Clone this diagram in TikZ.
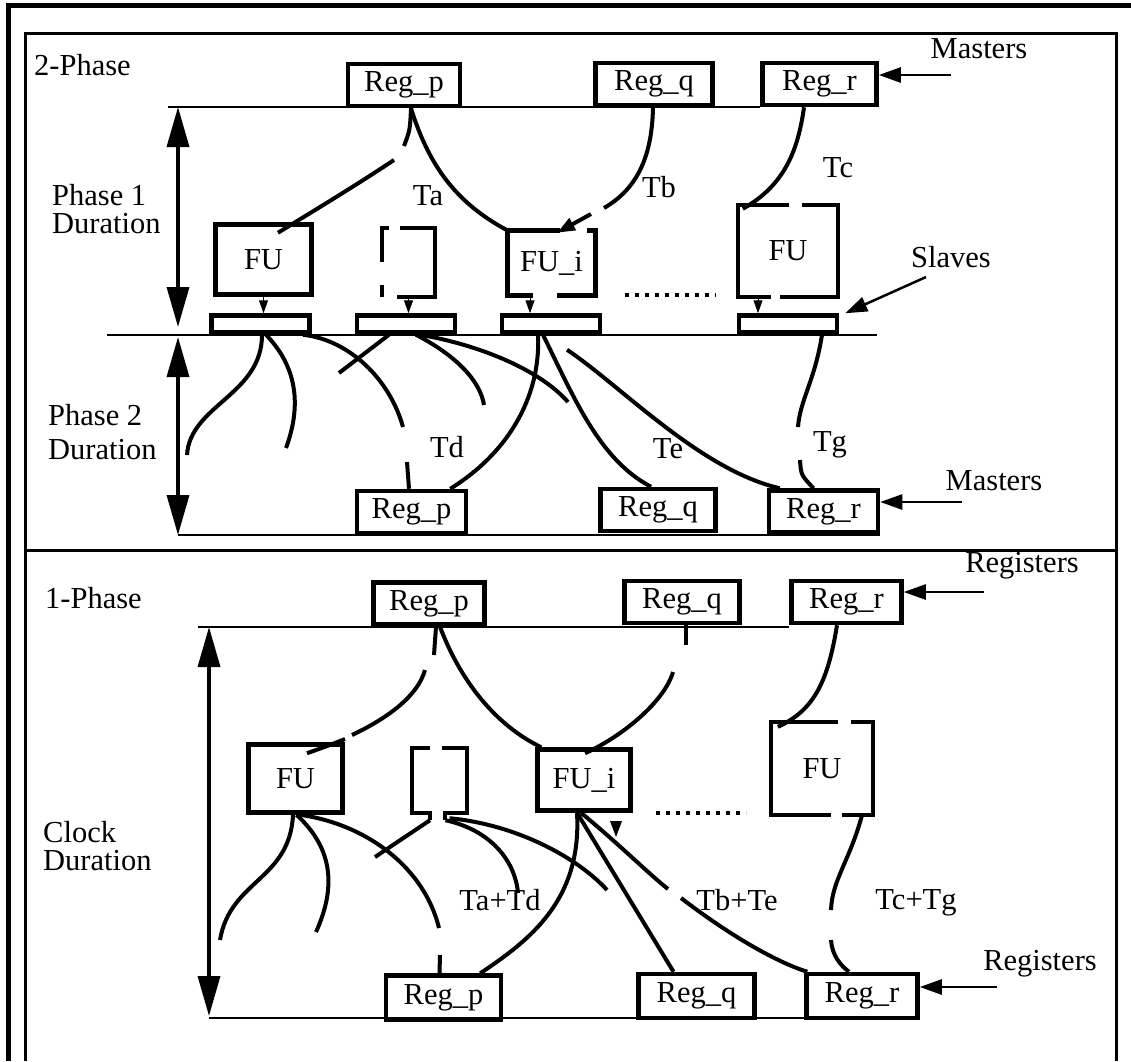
\documentclass[tikz,border=0pt]{standalone}
\usepackage{fontspec}
\setmainfont{Liberation Serif}
\usetikzlibrary{arrows.meta}
\newcommand\dtxt{\fontsize{30.5}{28}\selectfont}
\begin{document}
\begin{tikzpicture}[x=1pt,y=-1pt,
  box/.style={draw, line width=4.5pt, inner sep=0pt, font=\dtxt},
  reg/.style={box, minimum width=112pt, minimum height=42pt},
  fub/.style={box, minimum width=96pt, minimum height=70pt},
  ghost/.style={inner sep=0pt, font=\dtxt},
  outl/.style={line width=4.5pt},
  slv/.style={box, minimum width=98pt, minimum height=17pt},
  wire/.style={line width=4pt},
  tline/.style={line width=1.6pt},
  frame/.style={line width=3pt},
  durarrow/.style={line width=3.5pt, {Triangle[length=40pt,width=22pt]}-{Triangle[length=40pt,width=22pt]}},
  ptr/.style={line width=2.5pt, -{Triangle[length=22pt,width=15pt]}},
  lbl/.style={font=\dtxt, inner sep=0pt},
  tipar/.style={line width=1pt, -{Triangle[length=13pt,width=9pt]}},
  dots/.style={line width=4.5pt, dash pattern=on 4pt off 6pt}
]
\useasboundingbox (0,0) rectangle (1131,1061);
% frames
\draw[line width=5pt] (8,1061) -- (8,5) -- (1131,5);
\draw[frame] (25,1061) -- (25,33) -- (1116,33) -- (1116,1061);
\draw[frame] (25,550) -- (1116,550);

% ================= 2-Phase =================
\node[lbl, anchor=base west] (t2p) at (34,75) {2-Phase};
\node[lbl, anchor=north west, align=left] (p1d) at (52,184) {Phase 1\\Duration};
\node[lbl, anchor=north west, align=left] (p2d) at (48,404) {Phase 2\\[6pt]Duration};

\node[reg] (Rp1) at (404,85) {Reg\_p};
\node[reg, minimum width=117pt] (Rq1) at (654,84) {Reg\_q};
\node[reg, minimum width=114pt] (Rr1) at (819.5,84) {Reg\_r};

\coordinate (L1s) at (168,107);
\draw[tline] (L1s) -- (L1s -| Rr1.west);
\coordinate (A1t) at (178,107);
\coordinate (A1b) at (178,327);
\draw[durarrow] (A1t) -- (A1b);
\coordinate (A2t) at (178,337);
\coordinate (A2b) at (178,535);
\draw[durarrow] (A2t) -- (A2b);

\node[lbl, anchor=base] (mst1) at (979,58) {Masters};
\coordinate (mtp) at (951,75);
\draw[ptr] (mtp) -- (Rr1.east |- mtp);

\node[fub] (FU1) at (263.5,259.5) {FU};
\node[ghost, minimum width=53pt, minimum height=69pt] (BR1) at (408.5,262.5) {};
\draw[outl] ([xshift=7pt]BR1.north west) -- (BR1.north west) -- ([yshift=-34pt]BR1.north west);
\draw[outl] ([yshift=12pt]BR1.south west) -- (BR1.south west);
\draw[outl] ([xshift=18pt]BR1.north west) -- (BR1.north east) -- (BR1.south east) -- ([xshift=15pt]BR1.south west);
\node[ghost, minimum width=88pt, minimum height=65pt] (FUi1) at (551.5,263) {FU\_i};
\draw[outl] ([xshift=52.5pt]FUi1.north west) -- (FUi1.north west) -- (FUi1.south west) -- ([xshift=26pt]FUi1.south west);
\draw[outl] ([xshift=49.5pt]FUi1.south west) -- (FUi1.south east) -- (FUi1.north east) -- ([xshift=79.5pt]FUi1.north west);
\node[ghost, minimum width=100pt, minimum height=92pt] (FUr1) at (788,251) {FU};
\draw[outl] ([xshift=51pt]FUr1.north west) -- (FUr1.north west) -- (FUr1.south west) -- ([xshift=33pt]FUr1.south west);
\draw[outl] ([xshift=42pt]FUr1.south west) -- (FUr1.south east) -- (FUr1.north east) -- ([xshift=64pt]FUr1.north west);

\coordinate (dt1a) at (625,295);
\coordinate (dt1b) at (716,295);
\draw[dots] (dt1a) -- (dt1b);

\node[slv] (S1) at (260.5,324) {};
\node[slv] (S2) at (406,324) {};
\node[slv] (S3) at (551,324) {};
\node[slv] (S4) at (788,324) {};

\coordinate (Lms) at (107,335);
\coordinate (Lme) at (877,335);
\draw[tline] (Lms) -- (Lme);

\draw[tipar] (FU1.south) -- (FU1.south |- S1.north);
\draw[tipar] (BR1.south) -- (BR1.south |- S2.north);
\coordinate (tp3) at (530,297);
\draw[tipar] (tp3) -- (tp3 |- S3.north);
\coordinate (tp4) at (758,297);
\draw[tipar] (tp4) -- (tp4 |- S4.north);

\node[lbl, anchor=base] (slvl) at (951,267) {Slaves};
\coordinate (slp) at (926,277);
\draw[ptr] (slp) -- ([xshift=6pt]S4.north east);

% phase 1 wires
\coordinate (g1a) at (404,146);
\coordinate (g1b) at (394,160);
\draw[wire] ([xshift=7pt]Rp1.south) .. controls (410,130) .. (g1a);
\draw[wire] (g1b) .. controls (355,186) and (315,210) .. ([xshift=14.5pt,yshift=-10.5pt]FU1.north);
\draw[wire] ([xshift=7pt]Rp1.south) .. controls (430,170) and (460,205) .. (FUi1.north west);
\coordinate (g4a) at (604,208);
\coordinate (g4b) at (591,214);
\draw[wire] ([xshift=-1pt]Rq1.south) .. controls (652,160) and (635,190) .. (g4a);
\draw[wire, -{Triangle[length=18pt,width=13pt]}] (g4b) -- ([xshift=5.5pt,yshift=-2.5pt]FUi1.north);
\draw[wire] ([xshift=-15.5pt]Rr1.south) .. controls (798,150) and (785,185) .. ([xshift=5pt,yshift=-4pt]FUr1.north west);
\node[lbl, anchor=base] (Ta) at (428,205) {Ta};
\node[lbl, anchor=base] (Tb) at (659,197) {Tb};
\node[lbl, anchor=base] (Tc) at (838,177) {Tc};

% bottom registers (phase 2)
\node[reg, minimum width=109pt] (Rp2) at (411.5,512) {Reg\_p};
\node[reg, minimum width=115pt] (Rq2) at (658,510) {Reg\_q};
\node[reg, minimum width=109pt] (Rr2) at (823.5,511.5) {Reg\_r};
\coordinate (L2s) at (178,535);
\draw[tline] (L2s) -- (L2s -| Rr2.east);

\node[lbl, anchor=base] (mst2) at (994,490) {Masters};
\coordinate (mbp) at (962,502);
\draw[ptr] (mbp) -- (Rr2.east |- mbp);

% phase 2 wires
\coordinate (da) at (187,455);
\coordinate (db) at (286,448);
\coordinate (dc1) at (403,427);
\coordinate (dc2) at (407,462);
\coordinate (dd) at (339,373);
\coordinate (de) at (484,405);
\coordinate (df) at (568,402);
\coordinate (dj1) at (798,427);
\coordinate (dj2) at (800,460);
\draw[wire] ([xshift=1.5pt]S1.south) .. controls (262,395) and (190,405) .. (da);
\draw[wire] ([xshift=5.5pt]S1.south) .. controls (300,370) and (300,410) .. (db);
\draw[wire] ([xshift=42.5pt]S1.south) .. controls (350,340) and (390,380) .. (dc1);
\draw[wire] (dc2) .. controls (408,475) .. ([xshift=-2.5pt]Rp2.north);
\draw[wire] ([xshift=-17pt]S2.south) -- (dd);
\draw[wire] ([xshift=10pt]S2.south) .. controls (455,355) and (480,380) .. (de);
\draw[wire] ([xshift=14pt]S2.south) .. controls (480,345) and (540,370) .. (df);
\draw[wire] ([xshift=-13pt]S3.south) .. controls (541,400) and (505,455) .. ([xshift=-18pt]Rp2.north east);
\draw[wire] ([xshift=-8pt]S3.south) .. controls (575,400) and (600,460) .. ([xshift=-7pt]Rq2.north);
\draw[wire] ([xshift=16pt,yshift=-15pt]S3.south) .. controls (620,385) and (700,470) .. ([xshift=13pt]Rr2.north west);
\draw[wire] ([xshift=34pt]S4.south) .. controls (815,380) and (800,400) .. (dj1);
\draw[wire] (dj2) .. controls (801,475) .. ([xshift=-10pt]Rr2.north);
\node[lbl, anchor=base] (Td) at (447,457) {Td};
\node[lbl, anchor=base] (Te) at (668,458) {Te};
\node[lbl, anchor=base] (Tg) at (830,451) {Tg};

% ================= 1-Phase =================
\node[lbl, anchor=base west] (t1p) at (45,608) {1-Phase};
\node[lbl, anchor=north west, align=left] (cld) at (43,821) {Clock\\Duration};

\node[reg, minimum width=111pt] (Rp3) at (429,603.5) {Reg\_p};
\node[reg, minimum width=115pt] (Rq3) at (682,602) {Reg\_q};
\node[reg, minimum width=110pt] (Rr3) at (846.5,602) {Reg\_r};
\coordinate (L3s) at (198,627);
\draw[tline] (L3s) -- (L3s -| Rr3.west);
\coordinate (A3t) at (209,627);
\coordinate (A3b) at (209,1016);
\draw[durarrow] (A3t) -- (A3b);

\node[lbl, anchor=base] (rg1) at (1022,572) {Registers};
\coordinate (rtp) at (984,592);
\draw[ptr] (rtp) -- (Rr3.east |- rtp);

\node[fub, minimum width=94pt, minimum height=68pt] (FU2) at (295.5,778.5) {FU};
\node[ghost, minimum width=55pt, minimum height=65pt] (BR2) at (439.5,780.5) {};
\draw[outl] ([xshift=18pt]BR2.north west) -- (BR2.north west) -- (BR2.south west) -- ([xshift=18pt]BR2.south west) -- ([xshift=18pt,yshift=-7pt]BR2.south west);
\draw[outl] ([xshift=33pt,yshift=-7pt]BR2.south west) -- ([xshift=33pt]BR2.south west) -- (BR2.south east) -- (BR2.north east) -- ([xshift=30pt]BR2.north west);
\node[fub, minimum width=93pt, minimum height=61pt] (FUi2) at (584,780) {FU\_i};
\node[ghost, minimum width=102pt, minimum height=93pt] (FUr2) at (822,768.5) {FU};
\draw[outl] ([xshift=67pt]FUr2.north west) -- (FUr2.north west) -- (FUr2.south west) -- ([xshift=60pt]FUr2.south west);
\draw[outl] ([xshift=71pt]FUr2.south west) -- (FUr2.south east) -- (FUr2.north east) -- ([xshift=80pt]FUr2.north west);

\coordinate (dt2a) at (656,813);
\coordinate (dt2b) at (746,813);
\draw[dots] (dt2a) -- (dt2b);
\fill (610,821) -- (622,821) -- (616,837) -- cycle;

\coordinate (g2a) at (434,655);
\coordinate (g2b) at (425,670);
\coordinate (g2c) at (352,735);
\coordinate (g2d) at (345,739);
\draw[wire] ([xshift=7pt]Rp3.south) -- (g2a);
\draw[wire] (g2b) .. controls (418,695) and (390,717) .. (g2c);
\draw[wire] (g2d) .. controls (330,745) .. ([xshift=11.5pt,yshift=-11pt]FU2.north);
\draw[wire] ([xshift=11pt]Rp3.south) .. controls (460,680) and (495,725) .. ([xshift=6pt]FUi2.north west);
\coordinate (g3a) at (686,645);
\coordinate (g3b) at (673,672);
\draw[wire] ([xshift=4pt]Rq3.south) -- (g3a);
\draw[wire] (g3b) .. controls (665,700) and (625,735) .. ([xshift=1pt,yshift=-6pt]FUi2.north);
\draw[wire] ([xshift=-9.5pt]Rr3.south) .. controls (828,680) and (815,710) .. ([xshift=7pt,yshift=-5pt]FUr2.north west);

% bottom registers (1-phase)
\node[reg, minimum width=115pt, minimum height=44pt] (Rp4) at (443.5,997.5) {Reg\_p};
\node[reg, minimum width=116pt, minimum height=44pt] (Rq4) at (696.5,996) {Reg\_q};
\node[reg, minimum width=111pt, minimum height=44pt] (Rr4) at (862,996) {Reg\_r};
\coordinate (L4s) at (209,1018);
\draw[tline] (L4s) -- (L4s -| Rr4.east);

\node[lbl, anchor=base] (rg2) at (1040,970) {Registers};
\coordinate (rbp) at (997,987);
\draw[ptr] (rbp) -- (Rr4.east |- rbp);

\coordinate (pa) at (220,940);
\coordinate (pb) at (316,932);
\coordinate (pc1) at (439,928);
\coordinate (pc2) at (440,955);
\coordinate (pd) at (375,857);
\coordinate (pe) at (518,893);
\coordinate (pf) at (607,890);
\coordinate (pi1) at (668,889);
\coordinate (pi2) at (681,898);
\coordinate (pj1) at (831,910);
\coordinate (pj2) at (831,940);
\draw[wire] ([xshift=-2.5pt]FU2.south) .. controls (290,880) and (230,880) .. (pa);
\draw[wire] ([xshift=1pt]FU2.south) .. controls (335,850) and (335,890) .. (pb);
\draw[wire] ([xshift=4.5pt]FU2.south) .. controls (370,825) and (425,870) .. (pc1);
\draw[wire] (pc2) -- ([xshift=-4pt]Rp4.north);
\draw[wire] ([xshift=-9.5pt,yshift=-7pt]BR2.south) -- (pd);
\draw[wire] ([xshift=6pt,yshift=-7pt]BR2.south) .. controls (490,830) and (515,860) .. (pe);
\draw[wire] ([xshift=10pt,yshift=-5pt]BR2.south) .. controls (520,825) and (580,860) .. (pf);
\draw[wire] ([xshift=-7pt]FUi2.south) .. controls (582,900) and (530,940) .. ([xshift=-23pt]Rp4.north east);
\draw[wire] ([xshift=-7pt]FUi2.south) -- ([xshift=-23pt]Rq4.north);
\draw[wire] ([xshift=-3pt]FUi2.south) .. controls (620,845) and (650,875) .. (pi1);
\draw[wire] (pi2) .. controls (720,928) and (770,960) .. ([xshift=3pt]Rr4.north west);
\draw[wire] ([xshift=40pt]FUr2.south) .. controls (850,860) and (832,880) .. (pj1);
\draw[wire] (pj2) .. controls (832,955) and (840,965) .. ([xshift=-13pt]Rr4.north);
\node[lbl, anchor=base] (TaTd) at (500,910) {Ta+Td};
\node[lbl, anchor=base] (TbTe) at (737,910) {Tb+Te};
\node[lbl, anchor=base] (TcTg) at (916,909) {Tc+Tg};
\end{tikzpicture}
\end{document}
